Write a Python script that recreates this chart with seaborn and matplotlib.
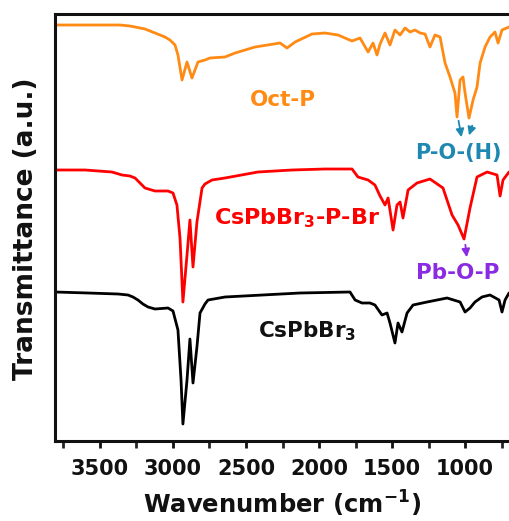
import numpy as np
import pandas as pd
import matplotlib
matplotlib.use("Agg")
import matplotlib.pyplot as plt
import seaborn as sns

# ---- data (transmittance in arbitrary units) ----
octp_wn = [3808, 3500, 3363, 3295, 3226, 3192, 3123, 3055, 3021, 2986, 2966, 2938, 2904, 2870,
           2829, 2781, 2747, 2644, 2575, 2438, 2267, 2219, 2164, 2048, 1959, 1870, 1774, 1719,
           1664, 1630, 1603, 1582, 1548, 1514, 1480, 1445, 1411, 1377,
           1343, 1308, 1274, 1240, 1206, 1171, 1137, 1103, 1069, 1055, 1034, 1014, 1000, 973,
           945, 918, 897, 863, 829, 795, 774, 747, 699]
octp_t = [416, 416, 416, 415, 413, 412, 408, 404, 401, 396, 386, 361, 379, 363,
          379, 381, 383, 384, 388, 394, 398, 393, 399, 407, 408, 406, 400, 403,
          389, 398, 386, 397, 408, 396, 411, 406, 413, 409,
          411, 408, 407, 394, 406, 404, 378, 364, 348, 324, 361, 364, 348, 323,
          341, 354, 378, 394, 404, 409, 398, 411, 414]

pbr_wn = [3808, 3603, 3418, 3349, 3295, 3260, 3226, 3192, 3123, 3034, 3000, 2973, 2952, 2932,
          2904, 2884, 2863, 2836, 2801, 2781, 2733, 2644, 2418, 2185, 1959, 1774, 1733, 1664,
          1617, 1582, 1548, 1527, 1493, 1466, 1445, 1425, 1390, 1329, 1240, 1151, 1089, 1048,
          1007, 966, 918, 849, 781, 760, 740, 699]
pbr_t = [271, 271, 269, 266, 265, 263, 258, 253, 250, 250, 248, 236, 203, 139,
         186, 221, 174, 219, 253, 257, 261, 263, 269, 271, 272, 272, 264, 261,
         256, 245, 236, 243, 211, 236, 239, 223, 251, 258, 262, 253, 226, 216,
         202, 233, 264, 269, 266, 245, 261, 269]

cs_wn = [3808, 3582, 3377, 3308, 3274, 3240, 3206, 3171, 3123, 3034, 3000, 2966, 2945, 2932,
         2904, 2884, 2863, 2836, 2815, 2781, 2760, 2644, 2130, 1788, 1753, 1706, 1651, 1617,
         1569, 1534, 1514, 1480, 1459, 1432, 1397, 1356, 1260, 1123, 1034, 1000, 966, 932,
         884, 829, 767, 747, 726, 699]
cs_t = [149, 148, 147, 146, 144, 141, 137, 134, 132, 133, 130, 111, 61, 17,
        61, 102, 58, 94, 128, 137, 141, 144, 148, 149, 141, 138, 138, 136,
        126, 128, 118, 98, 118, 109, 128, 136, 139, 143, 139, 129, 133, 139,
        144, 146, 141, 129, 141, 148]

samples = ["Oct-P", "CsPbBr3-P-Br", "CsPbBr3"]
colors = ["#FF8A14", "#FF0000", "#000000"]

x_ticks = [3500, 3000, 2500, 2000, 1500, 1000]
x_minor = [3750, 3250, 2750, 2250, 1750, 1250, 750]

df = pd.concat([
    pd.DataFrame({"wn": octp_wn, "T": octp_t, "sample": samples[0]}),
    pd.DataFrame({"wn": pbr_wn, "T": pbr_t, "sample": samples[1]}),
    pd.DataFrame({"wn": cs_wn, "T": cs_t, "sample": samples[2]}),
], ignore_index=True)

# ---- style ----
sns.set_theme(style="white")
plt.rcParams["font.family"] = ["DejaVu Sans"]
plt.rcParams["font.weight"] = "bold"
plt.rcParams["mathtext.fontset"] = "dejavusans"
plt.rcParams["mathtext.default"] = "bf"

fig = plt.figure(figsize=(5.09, 5.21), dpi=100)
ax = fig.add_axes([55 / 509, 1 - 441 / 521, 1 - 55 / 509, (441 - 14) / 521])

sns.lineplot(data=df, x="wn", y="T", hue="sample", units="sample", estimator=None,
             sort=False, palette=dict(zip(samples, colors)), linewidth=2.0,
             legend=False, ax=ax)
for ln in ax.lines:
    ln.set_solid_joinstyle("round")

ax.set_xlim(3808, 699)
ax.set_ylim(0, 427)
ax.set_xticks(x_ticks)
ax.set_xticks(x_minor, minor=True)
ax.set_xticklabels([str(v) for v in x_ticks])
ax.set_yticks([])
ax.tick_params(axis="x", which="major", direction="out", length=5, width=2,
               labelsize=15, pad=8, colors="#111111", bottom=True)
ax.tick_params(axis="x", which="minor", direction="out", length=5, width=2, bottom=True)
for lab in ax.get_xticklabels():
    lab.set_fontweight("bold")

for side in ["left", "top", "bottom"]:
    ax.spines[side].set_linewidth(2.2)
    ax.spines[side].set_color("#111111")
ax.spines["right"].set_visible(False)

ax.set_xlabel(r"Wavenumber (cm$^{-1}$)", fontsize=17.5, fontweight="bold", labelpad=7,
              color="#111111")
ax.set_ylabel("")
fig.text(26 / 509, 1 - 229 / 521, "Transmittance (a.u.)", rotation=90, ha="center",
         va="center", fontsize=19, fontweight="bold", color="#111111")

# annotations
ax.text(2247, 341, "Oct-P", color="#FF8A14", fontsize=15.5, fontweight="bold",
        ha="center", va="center")
ax.text(1048, 288, "P-O-(H)", color="#1E88B2", fontsize=15, fontweight="bold",
        ha="center", va="center")
ax.text(2151, 223, r"CsPbBr$_3$-P-Br", color="#FF0000", fontsize=16, fontweight="bold",
        ha="center", va="center")
ax.text(1048, 168, "Pb-O-P", color="#8A2BE2", fontsize=15.5, fontweight="bold",
        ha="center", va="center")
ax.text(2082, 110, r"CsPbBr$_3$", color="#111111", fontsize=15.5, fontweight="bold",
        ha="center", va="center")

arrow_kw = dict(arrowstyle="-|>,head_length=0.4,head_width=0.2", lw=1.3)
ax.annotate("", xy=(1021, 301), xytext=(1048, 323),
            arrowprops=dict(color="#1E88B2", **arrow_kw))
ax.annotate("", xy=(979, 303), xytext=(945, 318),
            arrowprops=dict(color="#1E88B2", **arrow_kw))
ax.annotate("", xy=(986, 181), xytext=(1000, 199),
            arrowprops=dict(color="#8A2BE2", **arrow_kw))

fig.savefig("out.png", dpi=100)
